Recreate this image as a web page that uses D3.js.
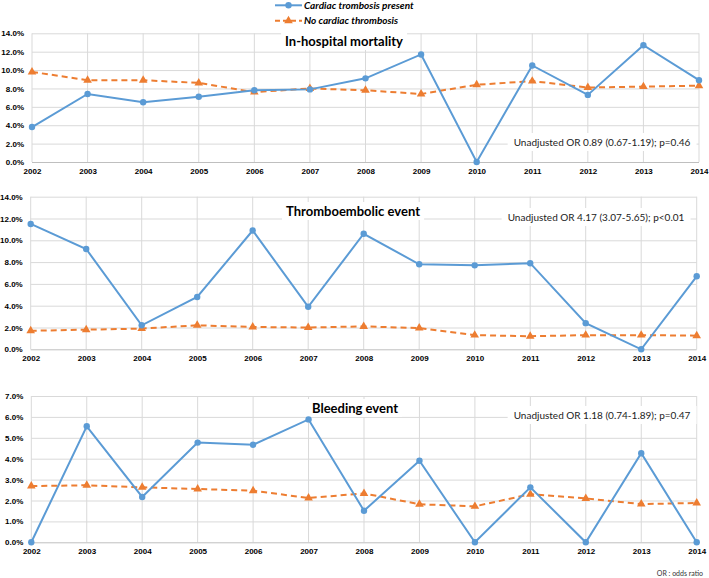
<!DOCTYPE html>
<html>
<head>
<meta charset="utf-8">
<script src="https://cdn.jsdelivr.net/npm/d3@7"></script>
<style>
  body { margin: 0; background: #fff; }
  svg { display: block; font-family: Lato, "Open Sans", sans-serif; }
</style>
</head>
<body>
<svg width="709" height="578"></svg>
<script>
// data (percent)
var years = [2002, 2003, 2004, 2005, 2006, 2007, 2008, 2009, 2010, 2011, 2012, 2013, 2014];

var mortalityPresent = [3.8, 7.4, 6.5, 7.1, 7.8, 7.9, 9.1, 11.7, 0.0, 10.5, 7.3, 12.7, 8.9];
var mortalityAbsent  = [9.8, 8.9, 8.9, 8.6, 7.6, 8.0, 7.8, 7.4, 8.4, 8.8, 8.1, 8.2, 8.3];

var thromboPresent = [11.5, 9.2, 2.2, 4.8, 10.9, 3.9, 10.6, 7.8, 7.7, 7.9, 2.4, 0.0, 6.7];
var thromboAbsent  = [1.7, 1.8, 1.9, 2.2, 2.05, 2.0, 2.1, 1.95, 1.3, 1.2, 1.3, 1.3, 1.25];

var bleedingPresent = [0.0, 5.55, 2.17, 4.77, 4.67, 5.88, 1.51, 3.9, 0.0, 2.63, 0.0, 4.26, 0.0];
var bleedingAbsent  = [2.69, 2.73, 2.63, 2.55, 2.47, 2.12, 2.34, 1.82, 1.72, 2.3, 2.1, 1.83, 1.88];

var seriesNames = ["Cardiac trombosis present", "No cardiac thrombosis"];
var panelTitles = ["In-hospital mortality", "Thromboembolic event", "Bleeding event"];
var panelNotes = ["Unadjusted OR 0.89 (0.67-1.19); p=0.46",
                  "Unadjusted OR 4.17 (3.07-5.65); p<0.01",
                  "Unadjusted OR 1.18 (0.74-1.89); p=0.47"];
var yMaxes = [14, 14, 7];
var yTickSteps = [2, 2, 1];

var blue = "#5b9bd5", orange = "#ed7d31";

// layout of the three panels
var panels = [
  {x0: 32,   x1: 699,   top: 33.3,  bottom: 162,   present: mortalityPresent, absent: mortalityAbsent,
   titleX: 344, titleY: 46, noteX: 602, noteY: 146},
  {x0: 30.7, x1: 696.7, top: 196.7, bottom: 349.3, present: thromboPresent, absent: thromboAbsent,
   titleX: 353, titleY: 216, noteX: 596, noteY: 221},
  {x0: 31.3, x1: 696.7, top: 396,   bottom: 542.3, present: bleedingPresent, absent: bleedingAbsent,
   titleX: 355, titleY: 413, noteX: 602, noteY: 419}
];

var svg = d3.select("svg");

panels.forEach(function(p, i){
  var x = d3.scaleLinear().domain([years[0], years[years.length-1]]).range([p.x0, p.x1]);
  var y = d3.scaleLinear().domain([0, yMaxes[i]]).range([p.bottom, p.top]);
  var yTicks = d3.range(0, yMaxes[i] + 0.001, yTickSteps[i]);
  var g = svg.append("g");

  // vertical grid
  g.selectAll(".vg").data(years).enter().append("line")
    .attr("x1", function(d){ return x(d); }).attr("x2", function(d){ return x(d); })
    .attr("y1", p.top).attr("y2", p.bottom)
    .attr("stroke", "#d9d9d9").attr("stroke-width", 1);

  // horizontal grid + y labels
  var yAxis = g.append("g").attr("transform", "translate(" + p.x0 + ",0)")
    .call(d3.axisLeft(y).tickValues(yTicks).tickSize(-(p.x1 - p.x0)).tickPadding(8)
      .tickFormat(function(d){ return d.toFixed(1) + "%"; }));
  yAxis.select(".domain").remove();
  yAxis.selectAll(".tick line").attr("stroke", function(d){ return d === 0 ? "#bfbfbf" : "#d9d9d9"; });
  yAxis.selectAll(".tick text").attr("font-size", 8).attr("font-weight", "bold").attr("fill", "#000");

  // x labels
  var xAxis = g.append("g").attr("transform", "translate(0," + p.bottom + ")")
    .call(d3.axisBottom(x).tickValues(years).tickSize(0).tickPadding(6).tickFormat(d3.format("d")));
  xAxis.select(".domain").remove();
  xAxis.selectAll(".tick text").attr("font-size", 8).attr("font-weight", "bold").attr("fill", "#000");

  // title with white box
  var titleBox = g.append("rect").attr("fill", "#fff");
  var title = g.append("text").attr("x", p.titleX).attr("y", p.titleY)
    .attr("text-anchor", "middle").attr("font-size", 13).attr("font-weight", "bold")
    .text(panelTitles[i]);
  var tb = title.node().getBBox();
  titleBox.attr("x", tb.x - 4).attr("y", tb.y - 1).attr("width", tb.width + 8)
    .attr("height", tb.height + 2);

  // OR note with white box
  var noteBox = g.append("rect").attr("fill", "#fff");
  var note = g.append("text").attr("x", p.noteX).attr("y", p.noteY)
    .attr("text-anchor", "middle").attr("font-size", 10).attr("fill", "#222")
    .text(panelNotes[i]);
  var nb = note.node().getBBox();
  noteBox.attr("x", nb.x - 6).attr("y", nb.y - 3).attr("width", nb.width + 12)
    .attr("height", nb.height + 6);

  var line = d3.line().x(function(d, j){ return x(years[j]); }).y(function(d){ return y(d); });

  g.append("path").datum(p.absent).attr("d", line).attr("fill", "none")
    .attr("stroke", orange).attr("stroke-width", 2).attr("stroke-dasharray", "6,4");
  g.append("path").datum(p.present).attr("d", line).attr("fill", "none")
    .attr("stroke", blue).attr("stroke-width", 2);

  g.selectAll(".tri").data(p.absent).enter().append("path")
    .attr("d", d3.symbol().type(d3.symbolTriangle).size(32))
    .attr("transform", function(d, j){ return "translate(" + x(years[j]) + "," + y(d) + ")"; })
    .attr("fill", orange);
  g.selectAll(".dot").data(p.present).enter().append("circle")
    .attr("cx", function(d, j){ return x(years[j]); }).attr("cy", function(d){ return y(d); })
    .attr("r", 3.2).attr("fill", blue);
});

// legend
var leg = svg.append("g");
[0, 1].forEach(function(k){
  var ly = k === 0 ? 5.3 : 20.7;
  leg.append("line").attr("x1", 275).attr("x2", 302).attr("y1", ly).attr("y2", ly)
    .attr("stroke", k === 0 ? blue : orange).attr("stroke-width", 2)
    .attr("stroke-dasharray", k === 0 ? null : "5,3");
  if (k === 0) {
    leg.append("circle").attr("cx", 288.5).attr("cy", ly).attr("r", 3.2).attr("fill", blue);
  } else {
    leg.append("path").attr("d", d3.symbol().type(d3.symbolTriangle).size(32)())
      .attr("transform", "translate(288.5," + ly + ")").attr("fill", orange);
  }
  leg.append("text").attr("x", 304).attr("y", ly + 3.6)
    .attr("font-size", 10).attr("font-weight", "bold").attr("font-style", "italic")
    .text(seriesNames[k]);
});

svg.append("text").attr("x", 703).attr("y", 576).attr("text-anchor", "end")
  .attr("font-size", 7).attr("fill", "#333").text("OR : odds ratio");
</script>
</body>
</html>
